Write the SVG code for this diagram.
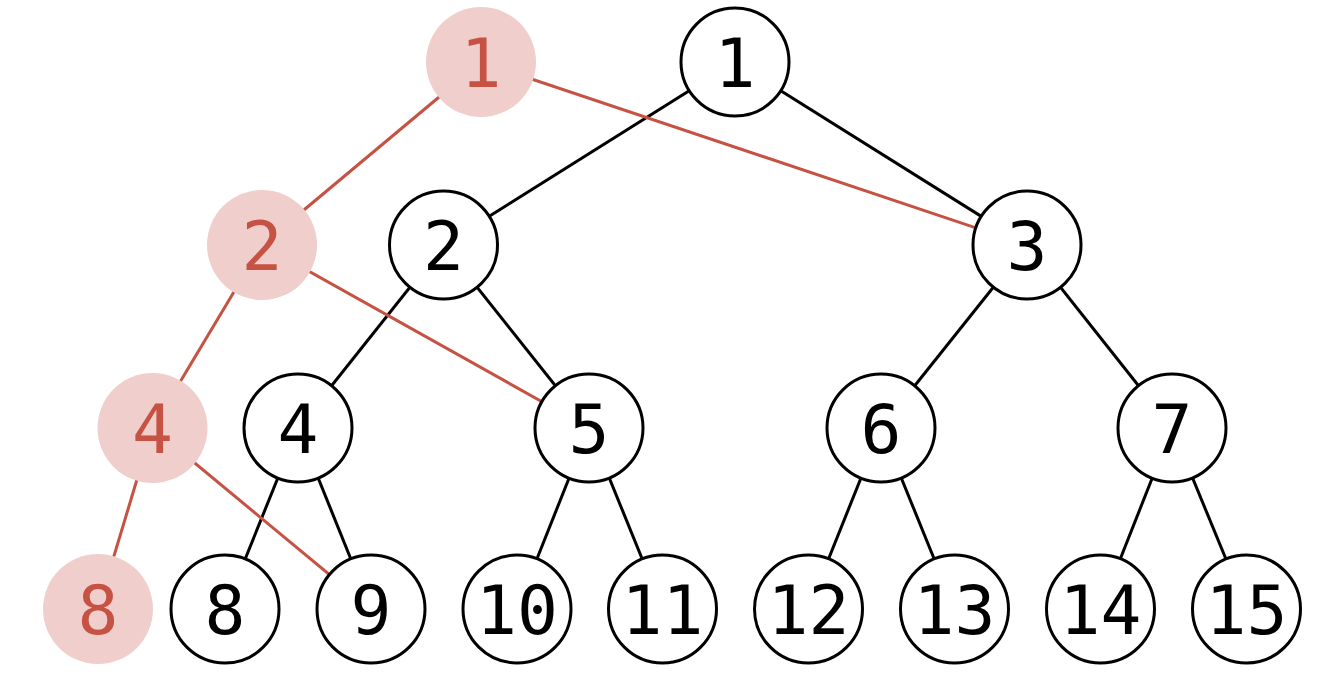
<svg xmlns="http://www.w3.org/2000/svg" width="1318" height="679" viewBox="0 0 1318 679">
<style>
.e{stroke:#000;stroke-width:3;fill:none}
.r{stroke:#c65243;stroke-width:3;fill:none}
.n circle{fill:#fff;stroke:#000;stroke-width:3}
.h circle{fill:#f0cecb;stroke:none}
text{font-family:"DejaVu Sans Mono","Liberation Mono",monospace;font-size:68px;text-anchor:middle}
.n text{fill:#000}
.h text{fill:#c65243}
</style>
<rect width="1318" height="679" fill="#fff"/>
<g id="edges">
<line class="e" x1="735" y1="62" x2="443.5" y2="245"/>
<line class="e" x1="735" y1="62" x2="1027" y2="245"/>
<line class="e" x1="443.5" y1="245" x2="298" y2="428"/>
<line class="e" x1="443.5" y1="245" x2="589" y2="428"/>
<line class="e" x1="1027" y1="245" x2="881" y2="428"/>
<line class="e" x1="1027" y1="245" x2="1172" y2="428"/>
<line class="e" x1="298" y1="428" x2="225" y2="609"/>
<line class="e" x1="298" y1="428" x2="371" y2="609"/>
<line class="e" x1="589" y1="428" x2="517" y2="609"/>
<line class="e" x1="589" y1="428" x2="662.5" y2="609"/>
<line class="e" x1="881" y1="428" x2="808.5" y2="609"/>
<line class="e" x1="881" y1="428" x2="954.5" y2="609"/>
<line class="e" x1="1172" y1="428" x2="1100.5" y2="609"/>
<line class="e" x1="1172" y1="428" x2="1246.5" y2="609"/>
<line class="r" x1="481" y1="62" x2="262" y2="245"/>
<line class="r" x1="481" y1="62" x2="1027" y2="245"/>
<line class="r" x1="262" y1="245" x2="152.5" y2="428"/>
<line class="r" x1="262" y1="245" x2="589" y2="428"/>
<line class="r" x1="152.5" y1="428" x2="98" y2="609"/>
<line class="r" x1="152.5" y1="428" x2="371" y2="609"/>
</g>
<g id="h1" class="h"><circle cx="481" cy="62" r="55"/><text x="481" y="87">1</text></g>
<g id="h2" class="h"><circle cx="262" cy="245" r="55"/><text x="262" y="270">2</text></g>
<g id="h4" class="h"><circle cx="152.5" cy="428" r="55"/><text x="152.5" y="453">4</text></g>
<g id="h8" class="h"><circle cx="98" cy="609" r="55"/><text x="98" y="634">8</text></g>
<g id="n1" class="n"><circle cx="735" cy="62" r="54"/><text x="735" y="87">1</text></g>
<g id="n2" class="n"><circle cx="443.5" cy="245" r="54"/><text x="443.5" y="270">2</text></g>
<g id="n3" class="n"><circle cx="1027" cy="245" r="54"/><text x="1027" y="270">3</text></g>
<g id="n4" class="n"><circle cx="298" cy="428" r="54"/><text x="298" y="453">4</text></g>
<g id="n5" class="n"><circle cx="589" cy="428" r="54"/><text x="589" y="453">5</text></g>
<g id="n6" class="n"><circle cx="881" cy="428" r="54"/><text x="881" y="453">6</text></g>
<g id="n7" class="n"><circle cx="1172" cy="428" r="54"/><text x="1172" y="453">7</text></g>
<g id="n8" class="n"><circle cx="225" cy="609" r="54"/><text x="225" y="634">8</text></g>
<g id="n9" class="n"><circle cx="371" cy="609" r="54"/><text x="371" y="634">9</text></g>
<g id="n10" class="n"><circle cx="517" cy="609" r="54"/><text x="517" y="634">10</text></g>
<g id="n11" class="n"><circle cx="662.5" cy="609" r="54"/><text x="662.5" y="634">11</text></g>
<g id="n12" class="n"><circle cx="808.5" cy="609" r="54"/><text x="808.5" y="634">12</text></g>
<g id="n13" class="n"><circle cx="954.5" cy="609" r="54"/><text x="954.5" y="634">13</text></g>
<g id="n14" class="n"><circle cx="1100.5" cy="609" r="54"/><text x="1100.5" y="634">14</text></g>
<g id="n15" class="n"><circle cx="1246.5" cy="609" r="54"/><text x="1246.5" y="634">15</text></g>
</svg>
